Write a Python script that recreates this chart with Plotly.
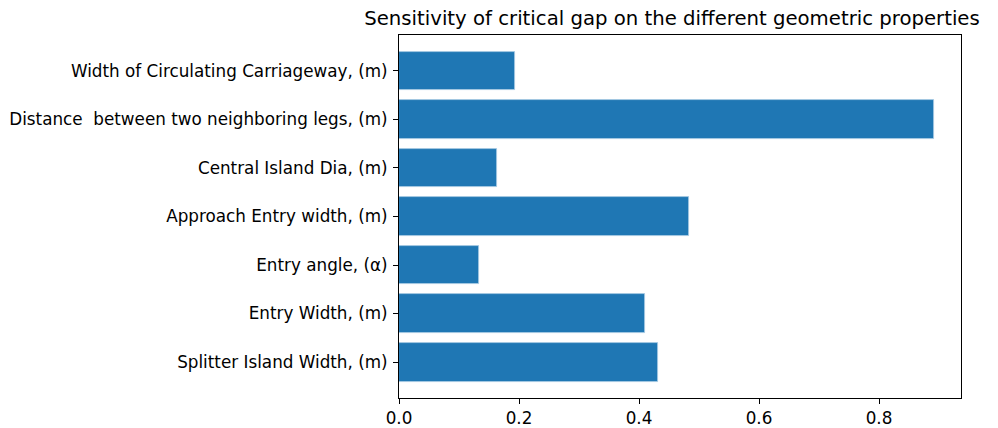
import plotly.graph_objects as go

categories = [
    "Splitter Island Width, (m)",
    "Entry Width, (m)",
    "Entry angle, (\u03b1)",
    "Approach Entry width, (m)",
    "Central Island Dia, (m)",
    "Distance \u00a0between two neighboring legs, (m)",
    "Width of Circulating Carriageway, (m)",
]
values = [0.431, 0.41, 0.133, 0.483, 0.163, 0.892, 0.193]
x_ticks = [0.0, 0.2, 0.4, 0.6, 0.8]
x_tick_labels = ["0.0", "0.2", "0.4", "0.6", "0.8"]

W, H = 998, 428
L, T, R, B = 399, 35, 961, 398

fig = go.Figure(go.Bar(
    x=values,
    y=list(range(len(categories))),
    orientation="h",
    width=0.8,
    marker=dict(color="#1f77b4", line=dict(color="#a9cbe5", width=0.8)),
))

font_family = "DejaVu Sans"
fig.update_layout(
    width=W,
    height=H,
    margin=dict(l=L, r=W - R, t=T, b=H - B, autoexpand=False),
    plot_bgcolor="white",
    paper_bgcolor="white",
    font=dict(family=font_family, size=16.8, color="black"),
    title=dict(
        text="Sensitivity of critical gap on the different geometric properties",
        x=672 / W,
        xanchor="center",
        y=1 - 18 / H,
        yanchor="middle",
        font=dict(family=font_family, size=19.7, color="black"),
    ),
    showlegend=False,
    bargap=0,
)
fig.update_xaxes(
    range=[0, max(values) * 1.05],
    tickvals=x_ticks,
    ticktext=x_tick_labels,
    ticks="outside",
    ticklen=5,
    tickwidth=1,
    tickcolor="black",
    showline=True,
    linecolor="black",
    linewidth=1,
    mirror=True,
    showgrid=False,
    zeroline=False,
    automargin=False,
    tickfont=dict(size=16.8),
)
fig.update_yaxes(
    range=[-0.74, len(categories) - 1 + 0.74],
    tickvals=list(range(len(categories))),
    ticktext=categories,
    ticks="outside",
    ticklen=5,
    tickwidth=1,
    tickcolor="black",
    showline=True,
    linecolor="black",
    linewidth=1,
    mirror=True,
    showgrid=False,
    zeroline=False,
    automargin=False,
    ticklabelstandoff=2,
    tickfont=dict(size=16.8),
)

fig.write_html(
    "out.html",
    config={"displayModeBar": False},
    post_script="document.body.style.margin='0';document.body.style.overflow='hidden';",
)
